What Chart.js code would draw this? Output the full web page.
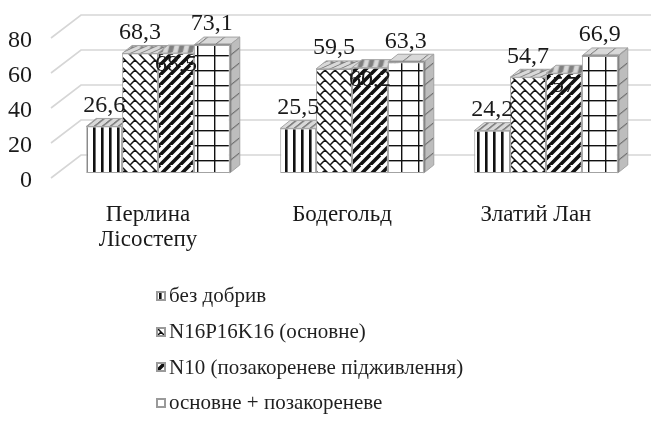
<!DOCTYPE html>
<html>
<head>
<meta charset="utf-8">
<script src="https://cdn.jsdelivr.net/npm/chart.js@4.4.1/dist/chart.umd.min.js"></script>
<style>
  html, body { margin: 0; padding: 0; background: #fff; }
  #wrap { position: relative; width: 655px; height: 431px; overflow: hidden; }
  #legend {
    position: absolute; left: 156px; top: 278px;
    font-family: "Liberation Serif", "Times New Roman", serif;
    font-size: 21px; color: #1f1f1f;
  }
  .li { display: flex; align-items: center; height: 35.7px; white-space: nowrap; }
  .li canvas { width: 10px; height: 10px; margin-right: 3px; }
</style>
</head>
<body>
<div id="wrap">
  <canvas id="chart" width="655" height="431"></canvas>
  <div id="legend"></div>
</div>
<script>
// Varieties and treatments
const categories = [['Перлина', 'Лісостепу'], 'Бодегольд', 'Златий Лан'];
const seriesNames = ['без добрив', 'N16P16K16 (основне)', 'N10 (позакореневе підживлення)', 'основне + позакореневе'];
const noFertilizer = [26.6, 25.5, 24.2];
const basicNPK = [68.3, 59.5, 54.7];
const foliarN = [68.5, 60.2, 57];
const basicPlusFoliar = [73.1, 63.3, 66.9];
const yTicks = [0, 20, 40, 60, 80];

const FONT = '"Liberation Serif", "Times New Roman", serif';
const INK = '#1a1a1a';

// 3D geometry: wall depth, bar offset into the wall, bar depth
const WALL_DX = 30, WALL_DY = -23;
const BAR_SHIFT_X = 10, BAR_SHIFT_Y = -5;
const BAR_DX = 10, BAR_DY = -8;

// ---- fill patterns ----
function tile(w, h, bg, paint) {
  const c = document.createElement('canvas');
  c.width = w; c.height = h;
  const g = c.getContext('2d');
  if (bg) { g.fillStyle = bg; g.fillRect(0, 0, w, h); }
  g.strokeStyle = '#111'; g.fillStyle = '#111';
  paint(g, w, h);
  return c;
}
const painters = [
  // vertical stripes
  { w: 8, h: 8, paint: (g) => { g.fillRect(3, 0, 2.6, 8); } },
  // diagonal brick
  { w: 20, h: 20, paint: (g) => {
      g.lineWidth = 1.5;
      const P = (s, c) => [(s + c) / 2, (s - c) / 2];
      g.beginPath();
      for (let k = -6; k <= 6; k++) {
        const c = 10 * k;
        const a = P(-80, c), b = P(80, c);
        g.moveTo(a[0], a[1]); g.lineTo(b[0], b[1]);
        for (let m = -5; m <= 5; m++) {
          const s = 20 * m + ((k & 1) ? 10 : 0);
          const p1 = P(s, c), p2 = P(s, c + 10);
          g.moveTo(p1[0], p1[1]); g.lineTo(p2[0], p2[1]);
        }
      }
      g.stroke();
  } },
  // wide upward diagonal
  { w: 10, h: 10, paint: (g) => {
      g.lineWidth = 3.6;
      g.beginPath();
      for (let k = -1; k <= 3; k++) { g.moveTo(-10 + 10 * k, 10); g.lineTo(10 * k, 0); g.moveTo(-20 + 10 * k, 20); g.lineTo(10 * k, 0); }
      g.stroke();
  } },
  // large grid
  { w: 17, h: 15, paint: (g, w, h) => { g.fillRect(0, 0, w, 1.4); g.fillRect(0, 0, 1.4, h); } }
];
const ctxMain = document.getElementById('chart').getContext('2d');
const frontPatterns = painters.map(p => ctxMain.createPattern(tile(p.w, p.h, '#fff', p.paint), 'repeat'));
const inkPatterns = painters.map(p => ctxMain.createPattern(tile(p.w, p.h, null, p.paint), 'repeat'));

// ---- walls, bars and value labels ----
const bar3d = {
  id: 'bar3d',
  beforeDatasetsDraw(chart) {
    const ctx = chart.ctx;
    const ys = chart.scales.y;
    const { left } = chart.chartArea;

    // back wall grid lines with their side-wall diagonals
    ctx.save();
    ctx.strokeStyle = '#d6d6d6';
    ctx.lineWidth = 1.6;
    ctx.beginPath();
    yTicks.forEach(v => {
      const py = ys.getPixelForValue(v);
      ctx.moveTo(left, py);
      ctx.lineTo(left + WALL_DX, py + WALL_DY);
      ctx.lineTo(chart.width - 4, py + WALL_DY);
    });
    ctx.stroke();
    ctx.restore();

    // bars painted left to right so nearer bars cover earlier side faces
    const items = [];
    chart.data.datasets.forEach((ds, di) => {
      chart.getDatasetMeta(di).data.forEach((el, i) => items.push({ el, di, i }));
    });
    items.sort((a, b) => a.el.x - b.el.x);

    ctx.save();
    ctx.translate(BAR_SHIFT_X, BAR_SHIFT_Y);
    items.forEach(({ el, di }) => {
      el.draw(ctx);
      const { x, y, width, base } = el.getProps(['x', 'y', 'width', 'base'], true);
      const l = x - width / 2, r = x + width / 2, t = y, b = base;

      // top face
      ctx.save();
      ctx.beginPath();
      ctx.moveTo(l, t); ctx.lineTo(r, t); ctx.lineTo(r + BAR_DX, t + BAR_DY); ctx.lineTo(l + BAR_DX, t + BAR_DY); ctx.closePath();
      ctx.fillStyle = '#d9d9d9';
      ctx.fill();
      ctx.save();
      ctx.clip();
      ctx.transform(1, 0, BAR_DX / -BAR_DY, -1, 0, t);
      ctx.globalAlpha = 0.45;
      ctx.fillStyle = inkPatterns[di];
      ctx.fillRect(-200, -50, 1200, 100);
      ctx.restore();
      ctx.strokeStyle = '#a3a3a3'; ctx.lineWidth = 1;
      ctx.stroke();
      ctx.restore();

      // side face
      ctx.save();
      ctx.beginPath();
      ctx.moveTo(r, t); ctx.lineTo(r + BAR_DX, t + BAR_DY); ctx.lineTo(r + BAR_DX, b + BAR_DY); ctx.lineTo(r, b); ctx.closePath();
      ctx.fillStyle = '#bdbdbd';
      ctx.fill();
      ctx.save();
      ctx.clip();
      ctx.transform(1, BAR_DY / BAR_DX, 0, 1, r, 0);
      ctx.globalAlpha = 0.45;
      ctx.fillStyle = inkPatterns[di];
      ctx.fillRect(-50, -200, 100, 800);
      ctx.restore();
      ctx.strokeStyle = '#a3a3a3'; ctx.lineWidth = 1;
      ctx.stroke();
      ctx.restore();
    });
    ctx.restore();

    // value labels
    ctx.save();
    ctx.font = '24px ' + FONT;
    ctx.fillStyle = INK;
    ctx.textAlign = 'center';
    ctx.textBaseline = 'middle';
    items.forEach(({ el, di, i }) => {
      const v = chart.data.datasets[di].data[i];
      const top = el.y + BAR_SHIFT_Y;
      const ly = di === 2 ? top + 12 : top - 21;
      ctx.fillText(String(v).replace('.', ','), el.x + BAR_SHIFT_X, ly);
    });
    ctx.restore();
    return false;
  }
};

const seriesData = [noFertilizer, basicNPK, foliarN, basicPlusFoliar];

const chart = new Chart(ctxMain, {
  type: 'bar',
  data: {
    labels: categories,
    datasets: seriesData.map((d, k) => ({
      label: seriesNames[k],
      data: d,
      backgroundColor: frontPatterns[k],
      borderColor: '#a3a3a3',
      borderWidth: 1,
      borderSkipped: false
    }))
  },
  options: {
    responsive: false,
    animation: false,
    events: [],
    layout: { padding: { left: 0, right: 22, top: 38, bottom: 0 } },
    datasets: { bar: { categoryPercentage: 0.74, barPercentage: 1 } },
    scales: {
      x: {
        grid: { display: false, drawTicks: false },
        border: { display: false },
        ticks: { padding: 24, color: INK, font: { family: FONT, size: 23, lineHeight: 1.1 }, maxRotation: 0, autoSkip: false },
        afterFit: (s) => { s.height = 253; }
      },
      y: {
        min: 0, max: 80,
        grid: { display: false, drawTicks: false },
        border: { display: false },
        ticks: { stepSize: 20, padding: 19, labelOffset: 3, color: INK, font: { family: FONT, size: 24 } },
        afterFit: (s) => { s.width = 51; }
      }
    },
    plugins: {
      legend: { display: false },
      tooltip: { enabled: false }
    }
  },
  plugins: [bar3d]
});

// legend list built from the chart's datasets
const legendBox = document.getElementById('legend');
chart.data.datasets.forEach((ds, k) => {
  const row = document.createElement('div');
  row.className = 'li';
  const sw = document.createElement('canvas');
  sw.width = 10; sw.height = 10;
  const g = sw.getContext('2d');
  g.fillStyle = g.createPattern(tile(painters[k].w, painters[k].h, '#fff', painters[k].paint), 'repeat');
  g.fillRect(0, 0, 10, 10);
  g.strokeStyle = '#9a9a9a'; g.lineWidth = 2;
  g.strokeRect(1, 1, 8, 8);
  const tx = document.createElement('span');
  tx.textContent = ds.label;
  row.appendChild(sw);
  row.appendChild(tx);
  legendBox.appendChild(row);
});
</script>
</body>
</html>
